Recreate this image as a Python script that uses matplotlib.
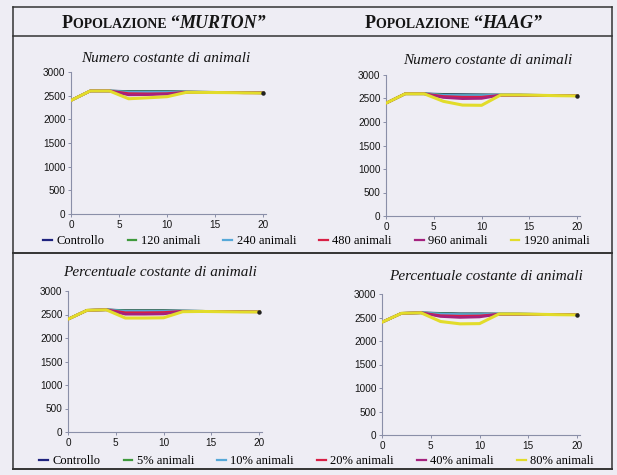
import matplotlib
matplotlib.use("Agg")
import matplotlib.pyplot as plt
from matplotlib.lines import Line2D

# ---------------- data ----------------
t = [0, 2, 4, 6, 8, 10, 12, 14, 16, 18, 20]

labels_num = ["Controllo", "120 animali", "240 animali", "480 animali", "960 animali", "1920 animali"]
labels_pct = ["Controllo", "5% animali", "10% animali", "20% animali", "40% animali", "80% animali"]

murton_num = [
    [2400, 2600, 2600, 2590, 2590, 2590, 2580, 2575, 2570, 2565, 2560],
    [2400, 2600, 2600, 2585, 2585, 2585, 2578, 2573, 2568, 2563, 2560],
    [2400, 2600, 2600, 2575, 2575, 2575, 2575, 2570, 2568, 2563, 2560],
    [2400, 2600, 2600, 2545, 2540, 2545, 2575, 2570, 2565, 2560, 2560],
    [2400, 2600, 2600, 2515, 2520, 2530, 2570, 2570, 2565, 2560, 2558],
    [2400, 2600, 2600, 2435, 2455, 2478, 2570, 2568, 2565, 2560, 2555],
]
haag_num = [
    [2400, 2600, 2600, 2590, 2585, 2580, 2575, 2575, 2570, 2565, 2560],
    [2400, 2600, 2600, 2580, 2575, 2575, 2575, 2572, 2568, 2563, 2560],
    [2400, 2600, 2600, 2570, 2565, 2565, 2575, 2572, 2568, 2563, 2560],
    [2400, 2600, 2600, 2545, 2530, 2530, 2570, 2570, 2565, 2560, 2558],
    [2400, 2600, 2600, 2520, 2495, 2500, 2570, 2570, 2565, 2560, 2558],
    [2400, 2600, 2600, 2440, 2360, 2355, 2575, 2575, 2568, 2560, 2555],
]
murton_pct = [
    [2400, 2590, 2600, 2585, 2585, 2585, 2575, 2570, 2565, 2560, 2560],
    [2400, 2590, 2600, 2580, 2580, 2580, 2575, 2570, 2565, 2560, 2560],
    [2400, 2590, 2600, 2570, 2570, 2570, 2573, 2570, 2565, 2560, 2560],
    [2400, 2590, 2600, 2540, 2540, 2545, 2570, 2568, 2565, 2560, 2558],
    [2400, 2590, 2600, 2505, 2505, 2510, 2565, 2565, 2562, 2558, 2555],
    [2400, 2590, 2600, 2425, 2425, 2430, 2560, 2565, 2560, 2555, 2555],
]
haag_pct = [
    [2400, 2590, 2600, 2590, 2580, 2580, 2575, 2575, 2570, 2565, 2560],
    [2400, 2590, 2600, 2585, 2575, 2575, 2575, 2572, 2568, 2563, 2560],
    [2400, 2590, 2600, 2575, 2565, 2565, 2575, 2572, 2568, 2563, 2560],
    [2400, 2590, 2600, 2540, 2530, 2535, 2570, 2570, 2565, 2560, 2558],
    [2400, 2590, 2600, 2520, 2500, 2510, 2570, 2570, 2565, 2560, 2558],
    [2400, 2590, 2600, 2415, 2365, 2370, 2575, 2575, 2568, 2560, 2555],
]

colors = ["#1e237e", "#3f9a3c", "#56a8d8", "#d81f45", "#a4227e", "#e2dc2a"]
bg = "#eeedf4"
ink = "#151515"
axcol = "#8a8fa8"

fig = plt.figure(figsize=(6.17, 4.75), dpi=100, facecolor=bg)

W, H = 617.0, 475.0

def px(x0, y0, x1, y1):
    # pixel box -> figure fractions [left, bottom, width, height]
    return [x0 / W, 1 - y1 / H, (x1 - x0) / W, (y1 - y0) / H]

panels = [
    (px(71, 72, 266, 214), murton_num, "Numero costante di animali", 166, 58),
    (px(386, 75, 580, 216), haag_num, "Numero costante di animali", 488, 60),
    (px(68, 291, 262, 432), murton_pct, "Percentuale costante di animali", 160, 272),
    (px(382, 294, 580, 435), haag_pct, "Percentuale costante di animali", 486, 276),
]

for box, series, title, tx, ty in panels:
    ax = fig.add_axes(box)
    ax.set_facecolor("none")
    for k, ys in enumerate(series):
        lw = 2.2 if k == 5 else 1.8
        ax.plot(t, ys, color=colors[k], lw=lw, solid_joinstyle="round", zorder=2 + k)
    ax.plot([20], [series[0][-1]], "o", color="#222222", ms=2.2, zorder=10)
    ax.set_xlim(0, 20.3)
    ax.set_ylim(0, 3000)
    ax.set_xticks([0, 5, 10, 15, 20])
    ax.set_yticks([0, 500, 1000, 1500, 2000, 2500, 3000])
    for s in ["top", "right"]:
        ax.spines[s].set_visible(False)
    for s in ["left", "bottom"]:
        ax.spines[s].set_color(axcol)
        ax.spines[s].set_linewidth(0.8)
    ax.tick_params(axis="both", length=2.5, width=0.7, color=axcol, pad=1.5,
                   labelsize=7.2, labelcolor=ink)
    for lab in ax.get_xticklabels() + ax.get_yticklabels():
        lab.set_family("Liberation Sans")
    fig.text(tx / W, 1 - ty / H, title, ha="center", va="center",
             family="Liberation Serif", style="italic", fontsize=11, color=ink)

# header with small caps imitation
def header(x, name):
    y = 1 - 28 / H
    r = fig.canvas.get_renderer()
    t1 = fig.text(x / W, y, "P", family="Liberation Serif", fontweight="bold",
                  fontsize=13, color=ink, va="baseline")
    bb = t1.get_window_extent(r)
    t2 = fig.text(bb.x1 / W, y, "OPOLAZIONE ", family="Liberation Serif", fontweight="bold",
                  fontsize=10, color=ink, va="baseline")
    bb2 = t2.get_window_extent(r)
    t3 = fig.text(bb2.x1 / W, y, "\u201c", family="Liberation Serif", fontweight="bold",
                  fontsize=13, color=ink, va="baseline")
    bb3 = t3.get_window_extent(r)
    fig.text(bb3.x1 / W, y, name + "\u201d", family="Liberation Serif",
             fontweight="bold", style="italic", fontsize=13, color=ink, va="baseline")

fig.canvas.draw()
header(62, "MURTON")
header(365, "HAAG")

# legends
def legend_row(labels, y):
    handles = [Line2D([], [], color=c, lw=1.6) for c in colors]
    fig.legend(handles, labels, loc="center", bbox_to_anchor=(0.513, 1 - y / H), ncol=6,
               frameon=False, handlelength=0.7, handletextpad=0.35, columnspacing=1.85,
               prop={"family": "Liberation Serif", "size": 9})

legend_row(labels_num, 241)
legend_row(labels_pct, 461)

# frame of the boxed figure
def hline(y, x0=13, x1=612, lw=1.1):
    fig.add_artist(Line2D([x0 / W, x1 / W], [1 - y / H, 1 - y / H], color="#333333", lw=lw))

def vline(x, y0=7, y1=469, lw=1.1):
    fig.add_artist(Line2D([x / W, x / W], [1 - y0 / H, 1 - y1 / H], color="#333333", lw=lw))

hline(7)
hline(36)
hline(253, lw=1.4)
hline(469, lw=1.4)
vline(13)
vline(612)

fig.savefig("out.png", dpi=100, facecolor=bg)
